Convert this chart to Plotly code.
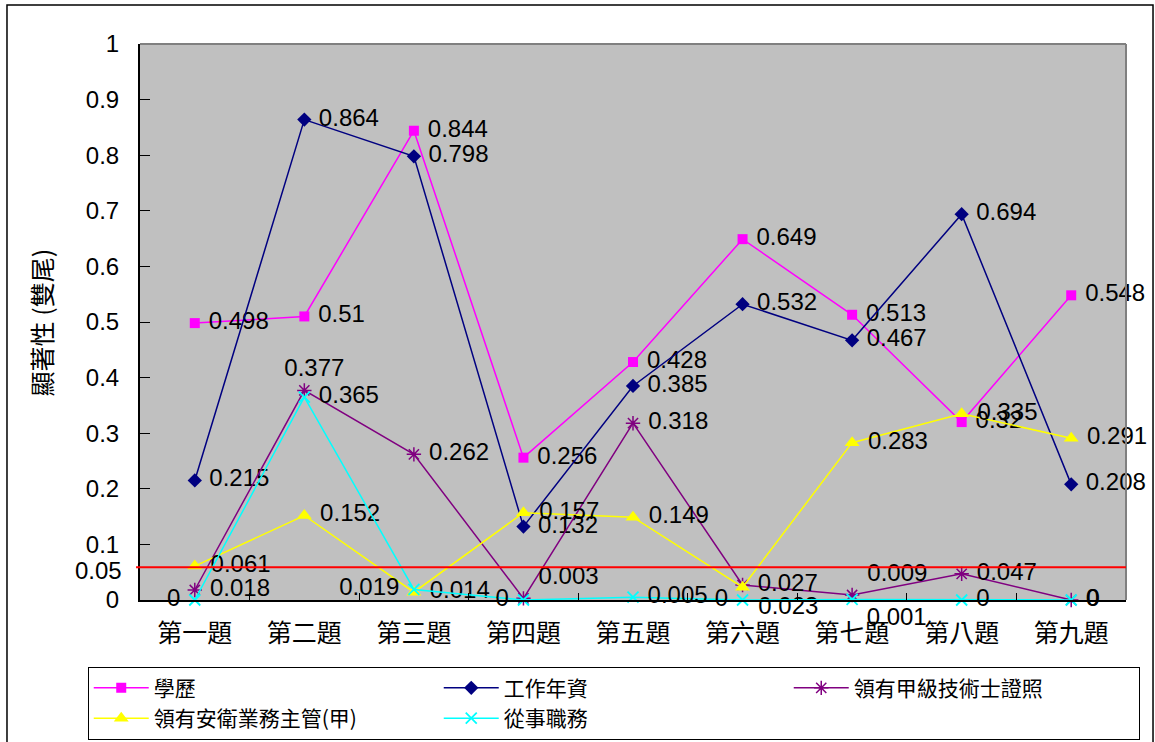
import plotly.graph_objects as go

categories = ["第一題", "第二題", "第三題", "第四題", "第五題", "第六題", "第七題", "第八題", "第九題"]

edu = [0.498, 0.51, 0.844, 0.256, 0.428, 0.649, 0.513, 0.32, 0.548]
seniority = [0.215, 0.864, 0.798, 0.132, 0.385, 0.532, 0.467, 0.694, 0.208]
license_a = [0.018, 0.377, 0.262, 0.003, 0.318, 0.027, 0.009, 0.047, 0]
safety_mgr = [0.061, 0.152, 0.014, 0.157, 0.149, 0.023, 0.283, 0.335, 0.291]
duty = [0, 0.365, 0.019, 0, 0.005, 0, 0.001, 0, 0]

threshold = 0.05
threshold_line = 0.059

# label positions (style)
pos_edu = ["middle right"] * 9
pos_sen = ["middle right"] * 9
pos_lic = ["middle right", "top center", "middle right", "top right", "middle right",
           "middle right", "top right", "middle right", "middle right"]
pos_saf = ["middle right"] * 5 + ["bottom right"] + ["middle right"] * 3
pos_duty = ["middle left", "middle right", "middle left", "middle left", "middle right",
            "middle left", "bottom right", "middle right", "middle right"]

LAT = "Liberation Sans, Arial, Noto Sans CJK TC"
CJK = "Noto Sans CJK TC, Liberation Sans"
NB = "\u00a0"


def lbl(vals, pos):
    out = []
    for v, p in zip(vals, pos):
        s = f"{v:g}"
        if p.endswith("right"):
            s = NB + s
        elif p.endswith("left"):
            s = s + NB
        elif p == "top center":
            s = NB * 3 + s
        out.append(s)
    return out


series = [
    ("學歷", edu, "#FF00FF", dict(symbol="square", size=10), pos_edu),
    ("工作年資", seniority, "#000080", dict(symbol="diamond", size=11), pos_sen),
    ("領有甲級技術士證照", license_a, "#800080",
     dict(symbol="asterisk-open", size=12, line=dict(width=1.5, color="#800080")), pos_lic),
    ("領有安衛業務主管(甲)", safety_mgr, "#FFFF00", dict(symbol="triangle-up", size=13), pos_saf),
    ("從事職務", duty, "#00FFFF",
     dict(symbol="x-thin-open", size=11, line=dict(width=1.8, color="#00FFFF")), pos_duty),
]

fig = go.Figure()
for name, vals, color, marker, pos in series:
    marker = dict(marker)
    marker["color"] = color
    fig.add_trace(go.Scatter(
        x=categories, y=vals, name=name, mode="lines+markers+text",
        line=dict(color=color, width=1.5), marker=marker,
        text=lbl(vals, pos), textposition=pos,
        textfont=dict(family=LAT, size=24, color="black"),
        cliponaxis=False,
    ))

fig.update_layout(
    width=1155, height=742,
    margin=dict(l=140, r=29, t=44, b=142, autoexpand=False),
    paper_bgcolor="white", plot_bgcolor="#C0C0C0",
    showlegend=True,
    legend=dict(
        orientation="h", x=-0.053, xanchor="left", y=-0.12, yanchor="top",
        bordercolor="black", borderwidth=1, bgcolor="white",
        font=dict(family=CJK, size=21, color="black"),
        entrywidth=280, entrywidthmode="pixels",
        itemwidth=55,
        tracegroupgap=0,
    ),
    xaxis=dict(
        type="category", range=[-0.5, 8.5], showgrid=False, zeroline=False,
        showline=True, linecolor="black", linewidth=2,
        ticks="inside", ticklen=7, tickcolor="black", tickson="boundaries",
        tickfont=dict(family=CJK, size=25, color="black"),
        ticklabelstandoff=10,
    ),
    yaxis=dict(
        range=[0, 1], dtick=0.1, tick0=0, showgrid=False, zeroline=False,
        showline=True, linecolor="black", linewidth=2,
        ticks="inside", ticklen=10, tickcolor="black",
        tickfont=dict(family=LAT, size=24, color="black"),
        ticklabelstandoff=14,
    ),
    shapes=[
        # plot area top / right border
        dict(type="line", xref="paper", yref="paper", x0=0, x1=1, y0=1, y1=1,
             line=dict(color="#808080", width=2)),
        dict(type="line", xref="paper", yref="paper", x0=1, x1=1, y0=0, y1=1,
             line=dict(color="#808080", width=2)),
        # threshold line
        dict(type="line", xref="paper", yref="y", x0=-0.004, x1=1,
             y0=threshold_line, y1=threshold_line, line=dict(color="#FF0000", width=2)),
        # outer chart border
        dict(type="rect", xref="paper", yref="paper", x0=-0.1349, x1=1.0274,
             y0=-0.27, y1=1.0701, line=dict(color="black", width=1.5)),
    ],
    annotations=[
        dict(text=f"{threshold:g}", xref="paper", yref="y", x=-0.016, y=0.053,
             xanchor="right", yanchor="middle", showarrow=False,
             font=dict(family=LAT, size=24, color="black")),
        dict(text="顯著性 (雙尾)", xref="paper", yref="paper", x=-0.1, y=0.5,
             xanchor="center", yanchor="middle", textangle=-90, showarrow=False,
             font=dict(family=CJK, size=25, color="black")),
    ],
)

fig.write_html("out.html")
